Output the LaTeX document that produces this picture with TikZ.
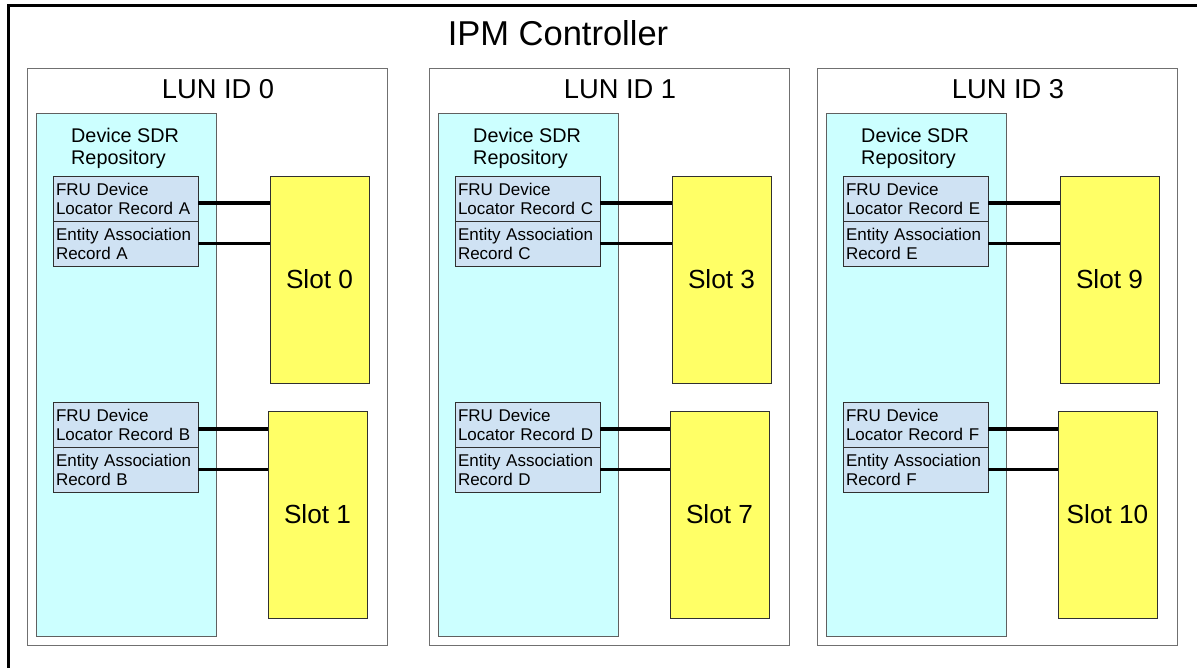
\documentclass[tikz,border=0pt]{standalone}
\usepackage{fontspec}
\setmainfont{Liberation Sans}
\definecolor{sdrcyan}{HTML}{CCFFFF}
\definecolor{recblue}{HTML}{CFE2F3}
\definecolor{slotyellow}{HTML}{FFFF66}
\definecolor{lunline}{HTML}{707070}
\definecolor{sdrline}{HTML}{606060}
\definecolor{darkline}{HTML}{303030}
\tikzset{
  ctitle/.style={anchor=base, inner sep=0, font=\fontsize{34.5}{40}\selectfont},
  lunbox/.style={draw=lunline, line width=1pt, fill=white, anchor=north west,
    minimum width=360pt, minimum height=577pt, inner sep=0, outer sep=0},
  luntitle/.style={anchor=base, inner sep=0, font=\fontsize{27.3}{32}\selectfont},
  sdrbox/.style={draw=sdrline, line width=1pt, fill=sdrcyan, anchor=north west,
    minimum width=180pt, minimum height=523pt, inner sep=0, outer sep=0},
  sdrtext/.style={anchor=north west, inner sep=0, align=left,
    font=\fontsize{19.8}{22}\selectfont},
  recbox/.style={draw=darkline, line width=1pt, fill=recblue, anchor=north west,
    minimum width=145pt, minimum height=45pt, text width=139pt, inner sep=3pt,
    outer sep=0, align=left, font=\fontsize{17}{19}\selectfont},
  slotbox/.style={draw=darkline, line width=1pt, fill=slotyellow, anchor=north west,
    minimum width=99pt, minimum height=207pt, inner sep=0, outer sep=0,
    font=\fontsize{26.2}{30}\selectfont},
  link/.style={line width=3.2pt, black}
}
\begin{document}
\begin{tikzpicture}[x=1pt,y=-1pt]
\useasboundingbox (0,0) rectangle (1197,667);
\fill[white] (0,0) rectangle (1197,667);
% outer controller frame, running past the right and bottom edges
\begin{scope}
  \clip (0,0) rectangle (1197,667);
  \draw[line width=3pt] (8.5,5.5) rectangle (1230,700);
\end{scope}
\node[ctitle] (ipm) at (558,45) {IPM Controller};
\foreach \k/\dx/\lun/\sa/\sb/\ra/\rb in {0/0/0/0/1/A/B, 1/402/1/3/7/C/D, 2/790/3/9/10/E/F}{
  \node[lunbox] (lun\k) at (27+\dx,68) {};
  \node[luntitle] (lunlabel\k) at (218+\dx,98) {LUN ID \lun};
  \node[sdrbox] (sdr\k) at (36+\dx,113) {};
  \node[sdrtext] (sdrlabel\k) at (71+\dx,128) {Device SDR\\Repository};
  % upper record pair and slot
  \node[recbox] (fa\k) at (53+\dx,176) {FRU Device\\Locator Record \ra};
  \node[recbox] (ea\k) at (53+\dx,221) {Entity Association\\Record \ra};
  \node[slotbox] (sa\k) at (270+\dx,176) {Slot \sa};
  % lower record pair and slot
  \node[recbox] (fb\k) at (53+\dx,402) {FRU Device\\Locator Record \rb};
  \node[recbox] (eb\k) at (53+\dx,447) {Entity Association\\Record \rb};
  \node[slotbox] (sb\k) at (268+\dx,411) {Slot \sb};
  % record-to-slot links
  \draw[link] ([yshift=-4.5pt]fa\k.east) -- ([yshift=-4.5pt]fa\k.east -| sa\k.west);
  \draw[link] (ea\k.east) -- (ea\k.east -| sa\k.west);
  \draw[link] ([yshift=-4.5pt]fb\k.east) -- ([yshift=-4.5pt]fb\k.east -| sb\k.west);
  \draw[link] (eb\k.east) -- (eb\k.east -| sb\k.west);
}
\end{tikzpicture}
\end{document}
